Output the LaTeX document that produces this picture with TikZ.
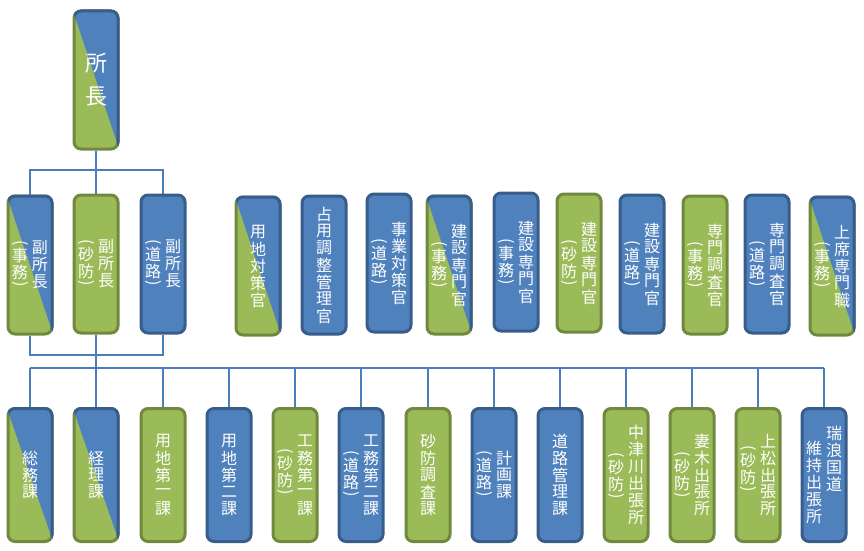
\documentclass[tikz,border=0pt]{standalone}
\usepackage{fontspec}
\usepackage{graphicx}
\newfontfamily\jpfont{Noto Sans CJK JP}
\usetikzlibrary{calc, backgrounds}
\definecolor{cgreen}{HTML}{9BBB59}
\definecolor{cgreend}{HTML}{71893F}
\definecolor{cblue}{HTML}{4F81BD}
\definecolor{cblued}{HTML}{385D8A}
\definecolor{cline}{HTML}{4A7EBB}
\tikzset{
  orgbox/.style={draw=#1d, fill=#1, rounded corners=7pt, line width=3pt, minimum width=44pt, minimum height=138pt, inner sep=0pt, text=white, font=\jpfont\fontsize{16}{17}\selectfont},
  orgbox/.default=cblue,
  lowbox/.style={minimum height=133pt},
  link/.style={draw=cline, line width=1.6pt},
}
\makeatletter
\newcommand{\tt@char}[1]{\vbox to 17pt{\vss\hbox to 16pt{\hss#1\hss}\vss}}
\newcommand{\tt@paren}[1]{\vbox to 7pt{\vss\hbox to 16pt{\hss\rotatebox{-90}{#1}\hss}\vss}}
\def\tt@loop#1{%
  \ifx#1\relax\else
    \ifx#1(\tt@paren{(}\else\ifx#1)\tt@paren{)}\else\tt@char{#1}\fi\fi
    \expandafter\tt@loop
  \fi}
% one column of vertical text, top aligned; #1 = drop from the top
\newcommand{\tcol}[2][0pt]{\vtop{\offinterlineskip\hrule height0pt width0pt\kern#1\tt@loop#2\relax}}
\makeatother
% box with green lower left and blue upper right half
\newcommand{\splitbox}[4][]{%
  \node[orgbox=cgreen, #1] (#2) at (#3) {#4};
  \begin{scope}
    \clip ($(#2.north west)!-0.1!(#2.south east)$) -- ($(#2.north east)+(8pt,8pt)$) -- ($(#2.north west)!1.1!(#2.south east)$) -- cycle;
    \node[orgbox=cblue, #1] (#2-top) at (#3) {#4};
  \end{scope}}

\begin{document}
\begin{tikzpicture}[x=1pt, y=-1pt]
  \useasboundingbox (0,0) rectangle (864,551);
  % head
  \splitbox[align=center, font=\jpfont\fontsize{22}{33}\selectfont]{head}{96,80}{所\\長}
  % deputies
  \splitbox{dep1}{30,265}{\tcol{(事務)}\hspace{4pt}\tcol{副所長}}
  \node[orgbox=cgreen] (dep2) at (96,264) {\tcol{(砂防)}\hspace{4pt}\tcol{副所長}};
  \node[orgbox=cblue] (dep3) at (163,264) {\tcol{(道路)}\hspace{4pt}\tcol{副所長}};
  % staff
  \splitbox{st1}{258,266}{\tcol{用地対策官}}
  \node[orgbox=cblue] (st2) at (324,265) {\tcol{占用調整管理官}};
  \node[orgbox=cblue] (st3) at (389,263) {\tcol[17pt]{(道路)}\hspace{4pt}\tcol{事業対策官}};
  \splitbox{st4}{449,265}{\tcol[18pt]{(事務)}\hspace{4pt}\tcol{建設専門官}}
  \node[orgbox=cblue] (st5) at (516,262) {\tcol[18pt]{(事務)}\hspace{4pt}\tcol{建設専門官}};
  \node[orgbox=cgreen] (st6) at (579,263) {\tcol[18pt]{(砂防)}\hspace{4pt}\tcol{建設専門官}};
  \node[orgbox=cblue] (st7) at (642,264) {\tcol[18pt]{(道路)}\hspace{4pt}\tcol{建設専門官}};
  \node[orgbox=cgreen] (st8) at (705,265) {\tcol[18pt]{(事務)}\hspace{4pt}\tcol{専門調査官}};
  \node[orgbox=cblue] (st9) at (767,264) {\tcol[18pt]{(道路)}\hspace{4pt}\tcol{専門調査官}};
  \splitbox{st10}{832,266}{\tcol[17pt]{(事務)}\hspace{4pt}\tcol{上席専門職}}
  % sections
  \splitbox[lowbox]{sec1}{30,475}{\tcol{総務課}}
  \splitbox[lowbox]{sec2}{96,475}{\tcol{経理課}}
  \node[orgbox=cgreen, lowbox] (sec3) at (163,475) {\tcol{用地第一課}};
  \node[orgbox=cblue, lowbox] (sec4) at (229,475) {\tcol{用地第二課}};
  \node[orgbox=cgreen, lowbox] (sec5) at (295,475) {\tcol[15pt]{(砂防)}\hspace{4pt}\tcol{工務第一課}};
  \node[orgbox=cblue, lowbox] (sec6) at (361,475) {\tcol[17pt]{(道路)}\hspace{4pt}\tcol{工務第二課}};
  \node[orgbox=cgreen, lowbox] (sec7) at (428,475) {\tcol{砂防調査課}};
  \node[orgbox=cblue, lowbox] (sec8) at (494,475) {\tcol{(道路)}\hspace{4pt}\tcol{計画課}};
  \node[orgbox=cblue, lowbox] (sec9) at (560,475) {\tcol{道路管理課}};
  \node[orgbox=cgreen, lowbox] (sec10) at (626,475) {\tcol[28pt]{(砂防)}\hspace{4pt}\tcol{中津川出張所}};
  \node[orgbox=cgreen, lowbox] (sec11) at (692,475) {\tcol[18pt]{(砂防)}\hspace{4pt}\tcol{妻木出張所}};
  \node[orgbox=cgreen, lowbox] (sec12) at (758,475) {\tcol[12pt]{(砂防)}\hspace{4pt}\tcol{上松出張所}};
  \node[orgbox=cblue, lowbox] (sec13) at (824,475) {\tcol[15pt]{維持出張所}\hspace{4pt}\tcol{瑞浪国道}};
  % connectors
  \begin{scope}[on background layer]
    \coordinate (j1) at (96,170);
    \coordinate (j2) at (96,355);
    \coordinate (j3) at (96,368);
    \draw[link] (head.south) -- (dep2.north);
    \draw[link] (dep1.north) |- (j1) -| (dep3.north);
    \draw[link] (dep1.south) |- (j2) -| (dep3.south);
    \draw[link] (dep2.south) -- (j3);
    \draw[link] (sec1.north |- j3) -- (sec13.north |- j3);
    \foreach \i in {1,...,13} \draw[link] (sec\i.north) -- (sec\i.north |- j3);
  \end{scope}
\end{tikzpicture}
\end{document}
